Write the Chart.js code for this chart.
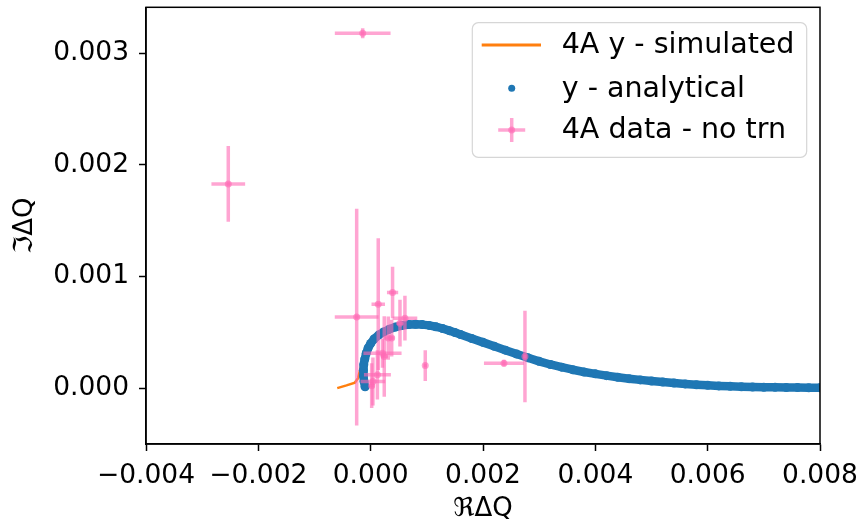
<!DOCTYPE html>
<html>
<head>
<meta charset="utf-8">
<script src="https://cdn.jsdelivr.net/npm/chart.js@4.4.0/dist/chart.umd.min.js"></script>
<style>
  html, body { margin: 0; padding: 0; background: #fff; }
</style>
</head>
<body>
<canvas id="dqChart" width="862" height="525"></canvas>
<script>
// y - analytical: Re / Im of dQ
const analyticRe = [
  -0.000100, -0.000118, -0.000128, -0.000130, -0.000122, -0.000105, -0.000080, -0.000045,
  0.000000, 0.000060, 0.000140, 0.000230, 0.000330, 0.000440, 0.000560, 0.000680,
  0.000800, 0.000920, 0.001040, 0.001160, 0.001280, 0.001400, 0.001500, 0.001600,
  0.001800, 0.002000, 0.002200, 0.002400, 0.002600, 0.002800, 0.003000, 0.003200,
  0.003400, 0.003600, 0.003800, 0.004000, 0.004200, 0.004400, 0.004600, 0.004800,
  0.005000, 0.005200, 0.005400, 0.005600, 0.005800, 0.006000, 0.006200, 0.006400,
  0.006600, 0.006800, 0.007000, 0.007200, 0.007400, 0.007600, 0.007800, 0.008000
];
const analyticIm = [
  0.000012, 0.000060, 0.000110, 0.000160, 0.000210, 0.000260, 0.000310, 0.000360,
  0.000400, 0.000440, 0.000475, 0.000503, 0.000527, 0.000547, 0.000561, 0.000570,
  0.000572, 0.000569, 0.000562, 0.000550, 0.000534, 0.000515, 0.000498, 0.000480,
  0.000445, 0.000410, 0.000375, 0.000340, 0.000305, 0.000272, 0.000240, 0.000212,
  0.000188, 0.000165, 0.000145, 0.000128, 0.000112, 0.000098, 0.000085, 0.000074,
  0.000064, 0.000055, 0.000046, 0.000038, 0.000031, 0.000025, 0.000020, 0.000016,
  0.000013, 0.000010, 0.000008, 0.000007, 0.000006, 0.000005, 0.000004, 0.000004
];

// 4A y - simulated
const simRe = [-0.000595, -0.000430, -0.000280, -0.000225, -0.000195, -0.000160, -0.000120, -0.000070];
const simIm = [0.000000, 0.000025, 0.000050, 0.000090, 0.000150, 0.000220, 0.000280, 0.000330];

// 4A data - no trn, with errors on both parts
const dataRe = [
  -0.000142, -0.002535, -0.000249, 0.000135, 0.000390, 0.000610, 0.000972, 0.002373, 0.002747,
  0.000018, 0.000040, 0.000120, 0.000210, 0.000242, 0.000313, 0.000374, 0.000522
];
const dataIm = [
  0.003178, 0.001829, 0.000636, 0.000752, 0.000856, 0.000627, 0.000202, 0.000224, 0.000284,
  0.000022, 0.000059, 0.000119, 0.000313, 0.000283, 0.000448, 0.000448, 0.000582
];
const dataReErr = [
  0.000496, 0.000300, 0.000390, 0.000120, 0.000100, 0.000220, 0.000030, 0.000356, 0.000030,
  0.000050, 0.000220, 0.000240, 0.000340, 0.000060, 0.000080, 0.000050, 0.000060
];
const dataImErr = [
  0.000045, 0.000339, 0.000970, 0.000590, 0.000230, 0.000200, 0.000137, 0.000030, 0.000410,
  0.000200, 0.000215, 0.000220, 0.000130, 0.000360, 0.000194, 0.000164, 0.000210
];

const xTicks = [-0.004, -0.002, 0, 0.002, 0.004, 0.006, 0.008];
const yTicks = [0, 0.001, 0.002, 0.003];

const seriesNames = ['4A y - simulated', 'y - analytical', '4A data - no trn'];
const orange = '#ff7f0e';
const blue = '#1f77b4';
const pink = 'rgba(255, 105, 180, 0.6)';
const FONT = 'DejaVu Sans';

function fmtTick(v) {
  const s = Math.abs(v).toFixed(3);
  return (v < -1e-12 ? '\u2212' : '') + s;
}

const toPoints = (xs, ys) => xs.map((v, i) => ({ x: v, y: ys[i] }));

// error bars under the pink markers, on top of the curves
const errorBars = {
  id: 'errorBars',
  beforeDatasetDraw(chart, args) {
    if (args.index !== 2) return;
    const { ctx, chartArea: a, scales: { x, y } } = chart;
    ctx.save();
    ctx.beginPath();
    ctx.rect(a.left, a.top, a.right - a.left, a.bottom - a.top);
    ctx.clip();
    ctx.strokeStyle = pink;
    ctx.lineWidth = 3.5;
    dataRe.forEach((re, i) => {
      const im = dataIm[i];
      ctx.beginPath();
      ctx.moveTo(x.getPixelForValue(re - dataReErr[i]), y.getPixelForValue(im));
      ctx.lineTo(x.getPixelForValue(re + dataReErr[i]), y.getPixelForValue(im));
      ctx.stroke();
      ctx.beginPath();
      ctx.moveTo(x.getPixelForValue(re), y.getPixelForValue(im - dataImErr[i]));
      ctx.lineTo(x.getPixelForValue(re), y.getPixelForValue(im + dataImErr[i]));
      ctx.stroke();
    });
    ctx.restore();
  }
};

// top/right spines and the boxed legend
const frameAndLegend = {
  id: 'frameAndLegend',
  afterDraw(chart) {
    const { ctx, chartArea: a } = chart;
    ctx.save();
    ctx.strokeStyle = '#000';
    ctx.lineWidth = 1.5;
    ctx.strokeRect(a.left, a.top, a.right - a.left, a.bottom - a.top);

    const bx = a.right - 347.7, by = a.top + 15.4, bw = 334.4, bh = 134.6;
    ctx.beginPath();
    ctx.roundRect(bx, by, bw, bh, 6);
    ctx.fillStyle = 'rgba(255,255,255,0.8)';
    ctx.fill();
    ctx.strokeStyle = '#d6d6d6';
    ctx.lineWidth = 1.2;
    ctx.stroke();

    const hx = bx + 39.4;
    const rows = [by + 22.3, by + 65.6, by + 107.3];
    // simulated: line handle
    ctx.strokeStyle = orange;
    ctx.lineWidth = 3;
    ctx.beginPath();
    ctx.moveTo(bx + 9.4, rows[0]);
    ctx.lineTo(bx + 68.7, rows[0]);
    ctx.stroke();
    // analytical: dot
    ctx.fillStyle = blue;
    ctx.beginPath();
    ctx.arc(hx, rows[1], 3.5, 0, Math.PI * 2);
    ctx.fill();
    // data: cross with marker
    ctx.strokeStyle = pink;
    ctx.lineWidth = 3.5;
    ctx.beginPath();
    ctx.moveTo(hx - 13.5, rows[2]);
    ctx.lineTo(hx + 13.5, rows[2]);
    ctx.stroke();
    ctx.beginPath();
    ctx.moveTo(hx, rows[2] - 12);
    ctx.lineTo(hx, rows[2] + 12);
    ctx.stroke();
    ctx.fillStyle = pink;
    ctx.beginPath();
    ctx.arc(hx, rows[2], 3.5, 0, Math.PI * 2);
    ctx.fill();

    ctx.fillStyle = '#000';
    ctx.font = '28.5px "' + FONT + '"';
    ctx.textBaseline = 'middle';
    ctx.textAlign = 'left';
    seriesNames.forEach((name, i) => ctx.fillText(name, bx + 89.4, rows[i] + 1));
    ctx.restore();
  }
};

new Chart(document.getElementById('dqChart'), {
  type: 'scatter',
  data: {
    datasets: [
      {
        label: seriesNames[0],
        data: toPoints(simRe, simIm),
        showLine: true,
        borderColor: orange,
        borderWidth: 2.5,
        pointRadius: 0,
        order: 2
      },
      {
        label: seriesNames[1],
        data: toPoints(analyticRe, analyticIm),
        showLine: true,
        borderColor: blue,
        backgroundColor: blue,
        borderWidth: 8.5,
        borderJoinStyle: 'round',
        borderCapStyle: 'round',
        pointRadius: 4.5,
        pointBorderWidth: 0,
        order: 1
      },
      {
        label: seriesNames[2],
        data: toPoints(dataRe, dataIm),
        backgroundColor: pink,
        pointRadius: 3.5,
        pointBorderWidth: 0,
        order: 0
      }
    ]
  },
  options: {
    responsive: false,
    animation: false,
    layout: { padding: { top: 7.3, right: 42, bottom: 0, left: 0 } },
    plugins: {
      legend: { display: false },
      tooltip: { enabled: false }
    },
    scales: {
      x: {
        type: 'linear',
        min: -0.004,
        max: 0.008,
        afterBuildTicks: (s) => { s.ticks = xTicks.map(v => ({ value: v })); },
        afterFit: (s) => { s.height = 81; s.paddingLeft = 0; s.paddingRight = 0; },
        grid: { drawOnChartArea: false, drawTicks: true, tickLength: 7, tickColor: '#000', tickWidth: 1.5 },
        border: { display: true, color: '#000', width: 1.5 },
        ticks: {
          color: '#000',
          padding: 9,
          maxRotation: 0,
          font: { family: FONT, size: 26.5 },
          callback: (v) => fmtTick(v)
        },
        title: {
          display: true,
          text: '\u211C\u0394Q',
          color: '#000',
          padding: { top: 7, bottom: 0 },
          font: { family: FONT, size: 26 }
        }
      },
      y: {
        type: 'linear',
        min: -0.0005,
        max: 0.00341,
        afterBuildTicks: (s) => { s.ticks = yTicks.map(v => ({ value: v })); },
        afterFit: (s) => { s.width = 146; s.paddingTop = 0; s.paddingBottom = 0; },
        grid: { drawOnChartArea: false, drawTicks: true, tickLength: 7, tickColor: '#000', tickWidth: 1.5 },
        border: { display: true, color: '#000', width: 1.5 },
        ticks: {
          color: '#000',
          padding: 10,
          font: { family: FONT, size: 26.5 },
          callback: (v) => fmtTick(v)
        },
        title: {
          display: true,
          text: '\u2111\u0394Q',
          color: '#000',
          padding: { top: 10, bottom: 0 },
          font: { family: FONT, size: 26 }
        }
      }
    }
  },
  plugins: [errorBars, frameAndLegend]
});
</script>
</body>
</html>
